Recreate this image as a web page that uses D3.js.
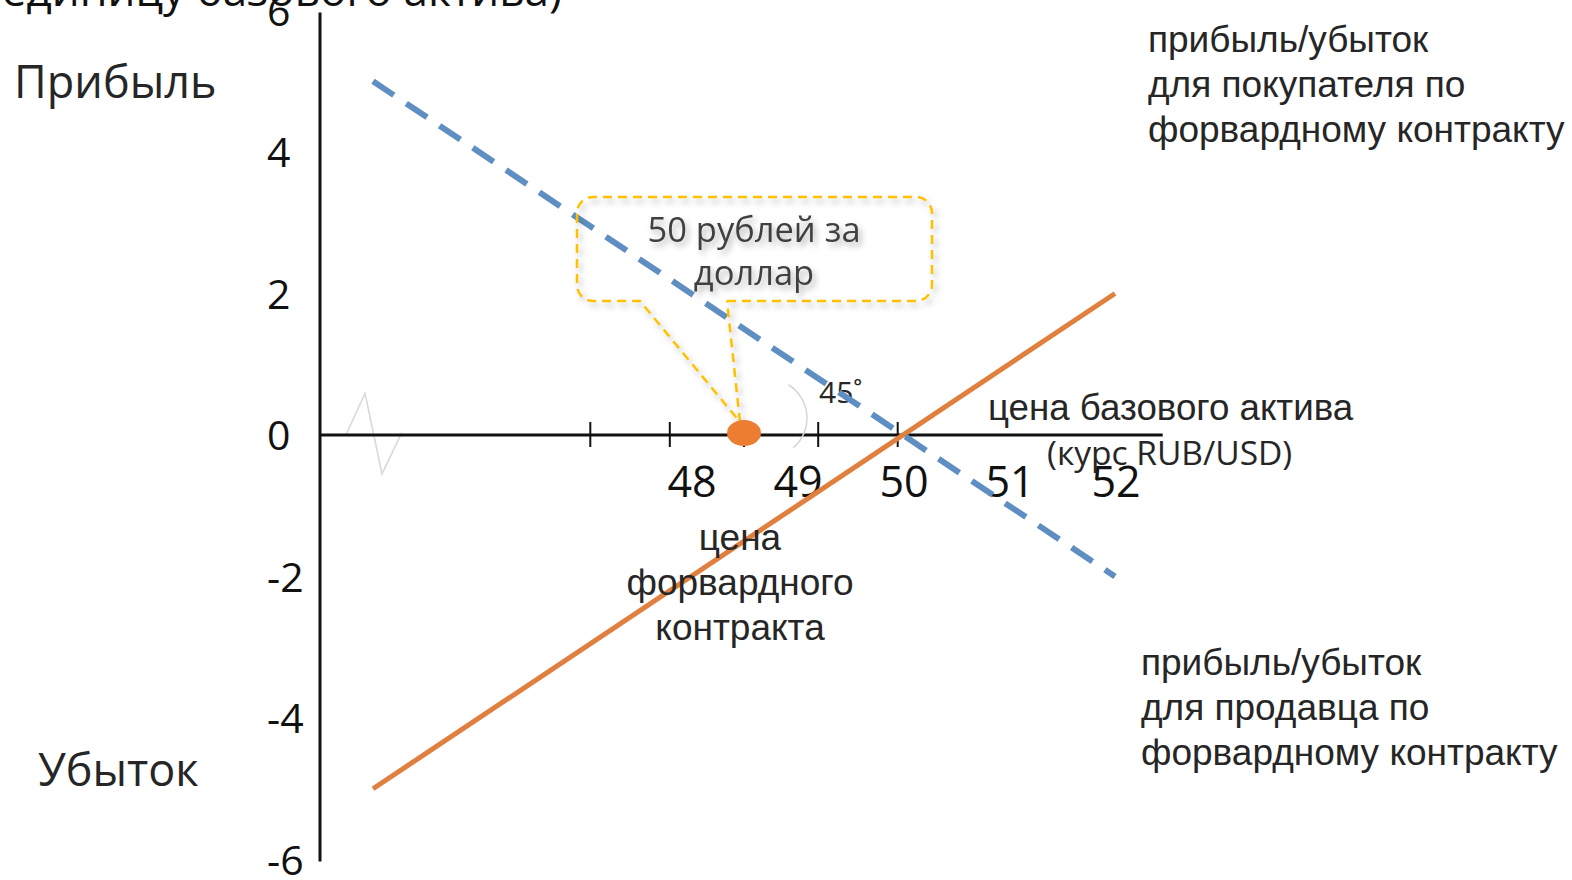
<!DOCTYPE html>
<html lang="ru">
<head>
<meta charset="utf-8">
<script src="https://cdn.jsdelivr.net/npm/d3@7/dist/d3.min.js"></script>
<style>
  html, body { margin: 0; padding: 0; background: #fff; }
  svg { display: block; }
</style>
</head>
<body>
<svg id="chart" width="1572" height="880"></svg>
<script>
// Forward contract payoff: buyer (long) and seller (short) per unit of the underlying
const spotPrices   = [45, 52];          // курс RUB/USD at the ends of the payoff lines
const forwardPrice = 50;                // agreed forward price
const buyerPnL     = [5, -2];           // dashed line
const sellerPnL    = [-5, 2];           // solid line
const yTickValues  = [6, 4, 2, 0, -2, -4, -6];
const xTickLabels  = [48, 49, 50, 51, 52];
const xTickMarks   = [47.05, 47.8, 48.5, 49.2, 49.95];
const markedPrice  = 48.5;              // orange marker on the price axis
const axisXExtent  = [44.5, 52.45];
const axisYExtent  = [-6, 6];
const breakSymbol  = [[44.745, 0], [44.925, 0.59], [45.085, -0.55], [45.27, 0.03]];

const svg = d3.select("#chart");

const x = d3.scaleLinear().domain([45, 52]).range([373, 1115]);
const y = d3.scaleLinear().domain([-6, 6]).range([859.5, 10.5]);

const defs = svg.append("defs");
const shadow = defs.append("filter").attr("id", "soft-shadow")
  .attr("x", "-20%").attr("y", "-20%").attr("width", "140%").attr("height", "160%");
shadow.append("feDropShadow")
  .attr("dx", 3).attr("dy", 4).attr("stdDeviation", 3)
  .attr("flood-color", "#000").attr("flood-opacity", 0.3);

const sansA = "'Liberation Sans', Arial, sans-serif";
const sansB = "'Open Sans', 'Noto Sans', sans-serif";

// Clipped heading remnant at the top
svg.append("text")
  .attr("x", 562).attr("y", 6)
  .attr("text-anchor", "end")
  .attr("font-family", sansB).attr("font-size", 44).attr("fill", "#111")
  .text("единицу базового актива)");

// Break symbol near the origin
svg.append("path")
  .datum(breakSymbol)
  .attr("d", d3.line().x(d => x(d[0])).y(d => y(d[1])))
  .attr("fill", "none").attr("stroke", "#d9d9d9").attr("stroke-width", 1.6);

// Axes
svg.append("line")
  .attr("x1", x(axisXExtent[0])).attr("x2", x(axisXExtent[0]))
  .attr("y1", y(axisYExtent[1]) + 2).attr("y2", y(axisYExtent[0]) + 2)
  .attr("stroke", "#111").attr("stroke-width", 3);
svg.append("line")
  .attr("x1", x(axisXExtent[0])).attr("x2", x(axisXExtent[1]))
  .attr("y1", y(0)).attr("y2", y(0))
  .attr("stroke", "#111").attr("stroke-width", 3);

svg.selectAll("line.tick").data(xTickMarks).join("line")
  .attr("class", "tick")
  .attr("x1", d => x(d)).attr("x2", d => x(d))
  .attr("y1", y(0) - 13).attr("y2", y(0) + 12)
  .attr("stroke", "#111").attr("stroke-width", 2);

// Y tick labels (left aligned beside the axis)
svg.selectAll("text.ytick").data(yTickValues).join("text")
  .attr("class", "ytick")
  .attr("x", 267)
  .attr("y", d => y(d) + 15)
  .attr("font-family", sansB).attr("font-size", 41).attr("fill", "#111")
  .text(d => d);

// X tick labels
svg.selectAll("text.xtick").data(xTickLabels).join("text")
  .attr("class", "xtick")
  .attr("x", d => x(d) + 1)
  .attr("y", 497)
  .attr("text-anchor", "middle")
  .attr("font-family", sansB).attr("font-size", 43).attr("fill", "#111")
  .text(d => d);

// 45° arc marker
const arcCx = 768, arcCy = 418, arcR = 39;
svg.append("path")
  .attr("d", d3.arc()({innerRadius: arcR, outerRadius: arcR, startAngle: 0.55, endAngle: 2.45}))
  .attr("transform", `translate(${arcCx},${arcCy})`)
  .attr("fill", "none").attr("stroke", "#d6d6d6").attr("stroke-width", 1.5);
svg.append("text")
  .attr("x", 819).attr("y", 403)
  .attr("font-family", sansB).attr("font-size", 30).attr("fill", "#262626")
  .text("45˚");

// Payoff lines
const payoffLine = d3.line().x(d => x(d[0])).y(d => y(d[1]));
svg.append("path")
  .datum(spotPrices.map((p, i) => [p, sellerPnL[i]]))
  .attr("d", payoffLine)
  .attr("fill", "none").attr("stroke", "#e07f3e").attr("stroke-width", 5);
svg.append("path")
  .datum(spotPrices.map((p, i) => [p, buyerPnL[i]]))
  .attr("d", payoffLine)
  .attr("fill", "none").attr("stroke", "#5f8fc2").attr("stroke-width", 6)
  .attr("stroke-dasharray", "25 15");

// Callout box with pointer to the forward price marker
const callout = svg.append("g");
const bx0 = 577, bx1 = 932, by0 = 197, by1 = 301, r = 16;
const px0 = 640, px1 = 727;
const tipX = x(markedPrice) - 4, tipY = y(0) - 13;
const calloutPath = d3.path();
calloutPath.moveTo(px1, by1);
calloutPath.lineTo(bx1 - r, by1);
calloutPath.arcTo(bx1, by1, bx1, by1 - r, r);
calloutPath.lineTo(bx1, by0 + r);
calloutPath.arcTo(bx1, by0, bx1 - r, by0, r);
calloutPath.lineTo(bx0 + r, by0);
calloutPath.arcTo(bx0, by0, bx0, by0 + r, r);
calloutPath.lineTo(bx0, by1 - r);
calloutPath.arcTo(bx0, by1, bx0 + r, by1, r);
calloutPath.lineTo(px0, by1);
calloutPath.lineTo(tipX, tipY);
calloutPath.lineTo(px1, by1);
callout.append("path")
  .attr("d", calloutPath.toString())
  .attr("fill", "none").attr("stroke", "#ffc000").attr("stroke-width", 2.5)
  .attr("stroke-dasharray", "9 6")
  .attr("filter", "url(#soft-shadow)");
callout.selectAll("text").data(["50 рублей за", "доллар"]).join("text")
  .attr("x", 754).attr("y", (d, i) => 242 + i * 43)
  .attr("text-anchor", "middle")
  .attr("font-family", sansB).attr("font-size", 34.5).attr("fill", "#404040")
  .attr("filter", "url(#soft-shadow)")
  .text(d => d);

// Forward price marker
svg.append("ellipse")
  .attr("cx", x(markedPrice)).attr("cy", y(0) - 2)
  .attr("rx", 17).attr("ry", 13)
  .attr("fill", "#ed7d31");

// Text annotations
function block(lines, xPos, yPos, lh, size, family, anchor) {
  svg.append("g").selectAll("text").data(lines).join("text")
    .attr("x", xPos).attr("y", (d, i) => yPos + i * lh)
    .attr("text-anchor", anchor || "start")
    .attr("font-family", family).attr("font-size", size).attr("fill", "#262626")
    .text(d => d);
}
block(["Прибыль"], 14, 98, 0, 45, sansB);
block(["Убыток"], 38, 786, 0, 45, sansB);
block(["прибыль/убыток", "для покупателя по", "форвардному контракту"], 1148, 52, 45, 37, sansA);
block(["прибыль/убыток", "для продавца по", "форвардному контракту"], 1141, 675, 45, 37, sansA);
block(["цена базового актива"], 988, 420, 0, 36.7, sansA);
block(["(курс RUB/USD)"], 1047, 465, 0, 33.5, sansB);
block(["цена", "форвардного", "контракта"], 740, 550, 45, 37, sansA, "middle");
</script>
</body>
</html>
